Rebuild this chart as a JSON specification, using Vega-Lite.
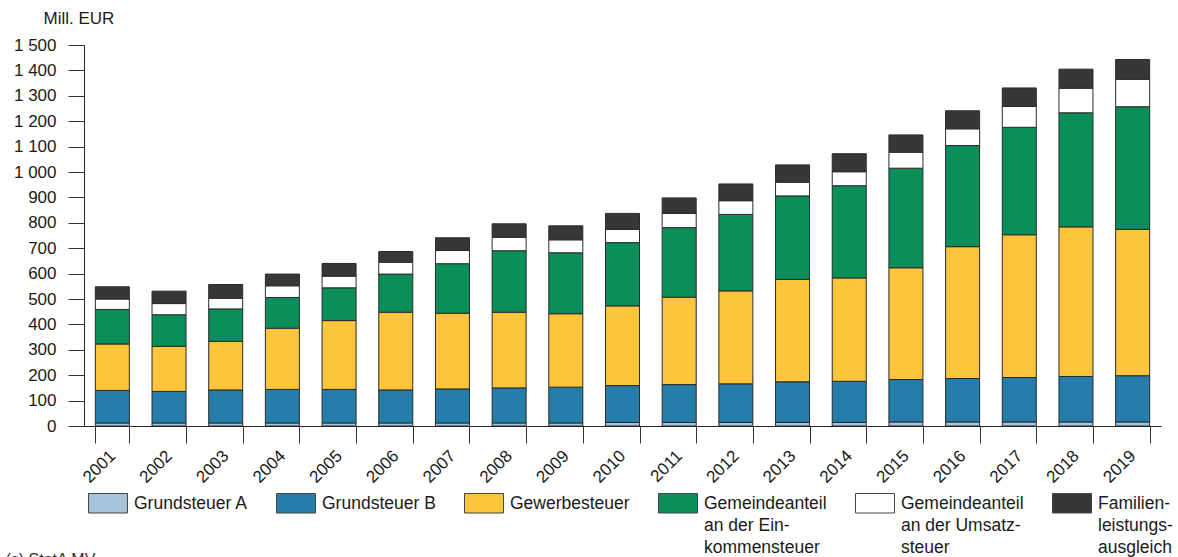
{
  "$schema": "https://vega.github.io/schema/vega-lite/v6.json",
  "autosize": {"type": "none"},
  "padding": {"left": 84, "top": 45, "right": 17, "bottom": 131},
  "width": 1077,
  "height": 381,
  "background": "white",
  "config": {"font": "Liberation Sans", "view": {"stroke": null}},
  "data": {
    "values": [
      {"Jahr": "2001", "Grundsteuer A": 12, "Grundsteuer B": 128, "Gewerbesteuer": 183, "Gemeindeanteil an der Einkommensteuer": 136, "Gemeindeanteil an der Umsatzsteuer": 41, "Familienleistungsausgleich": 48},
      {"Jahr": "2002", "Grundsteuer A": 12, "Grundsteuer B": 124, "Gewerbesteuer": 178, "Gemeindeanteil an der Einkommensteuer": 124, "Gemeindeanteil an der Umsatzsteuer": 44, "Familienleistungsausgleich": 49},
      {"Jahr": "2003", "Grundsteuer A": 12, "Grundsteuer B": 130, "Gewerbesteuer": 191, "Gemeindeanteil an der Einkommensteuer": 128, "Gemeindeanteil an der Umsatzsteuer": 42, "Familienleistungsausgleich": 54},
      {"Jahr": "2004", "Grundsteuer A": 12, "Grundsteuer B": 132, "Gewerbesteuer": 241, "Gemeindeanteil an der Einkommensteuer": 121, "Gemeindeanteil an der Umsatzsteuer": 46, "Familienleistungsausgleich": 46},
      {"Jahr": "2005", "Grundsteuer A": 12, "Grundsteuer B": 132, "Gewerbesteuer": 271, "Gemeindeanteil an der Einkommensteuer": 129, "Gemeindeanteil an der Umsatzsteuer": 46, "Familienleistungsausgleich": 50},
      {"Jahr": "2006", "Grundsteuer A": 12, "Grundsteuer B": 130, "Gewerbesteuer": 306, "Gemeindeanteil an der Einkommensteuer": 150, "Gemeindeanteil an der Umsatzsteuer": 47, "Familienleistungsausgleich": 42},
      {"Jahr": "2007", "Grundsteuer A": 12, "Grundsteuer B": 134, "Gewerbesteuer": 298, "Gemeindeanteil an der Einkommensteuer": 195, "Gemeindeanteil an der Umsatzsteuer": 52, "Familienleistungsausgleich": 50},
      {"Jahr": "2008", "Grundsteuer A": 12, "Grundsteuer B": 138, "Gewerbesteuer": 298, "Gemeindeanteil an der Einkommensteuer": 242, "Gemeindeanteil an der Umsatzsteuer": 53, "Familienleistungsausgleich": 53},
      {"Jahr": "2009", "Grundsteuer A": 12, "Grundsteuer B": 141, "Gewerbesteuer": 289, "Gemeindeanteil an der Einkommensteuer": 240, "Gemeindeanteil an der Umsatzsteuer": 51, "Familienleistungsausgleich": 55},
      {"Jahr": "2010", "Grundsteuer A": 14, "Grundsteuer B": 145, "Gewerbesteuer": 314, "Gemeindeanteil an der Einkommensteuer": 249, "Gemeindeanteil an der Umsatzsteuer": 52, "Familienleistungsausgleich": 63},
      {"Jahr": "2011", "Grundsteuer A": 14, "Grundsteuer B": 149, "Gewerbesteuer": 344, "Gemeindeanteil an der Einkommensteuer": 274, "Gemeindeanteil an der Umsatzsteuer": 56, "Familienleistungsausgleich": 61},
      {"Jahr": "2012", "Grundsteuer A": 14, "Grundsteuer B": 152, "Gewerbesteuer": 366, "Gemeindeanteil an der Einkommensteuer": 301, "Gemeindeanteil an der Umsatzsteuer": 54, "Familienleistungsausgleich": 66},
      {"Jahr": "2013", "Grundsteuer A": 14, "Grundsteuer B": 160, "Gewerbesteuer": 403, "Gemeindeanteil an der Einkommensteuer": 329, "Gemeindeanteil an der Umsatzsteuer": 54, "Familienleistungsausgleich": 68},
      {"Jahr": "2014", "Grundsteuer A": 14, "Grundsteuer B": 162, "Gewerbesteuer": 407, "Gemeindeanteil an der Einkommensteuer": 363, "Gemeindeanteil an der Umsatzsteuer": 55, "Familienleistungsausgleich": 71},
      {"Jahr": "2015", "Grundsteuer A": 16, "Grundsteuer B": 167, "Gewerbesteuer": 440, "Gemeindeanteil an der Einkommensteuer": 392, "Gemeindeanteil an der Umsatzsteuer": 63, "Familienleistungsausgleich": 68},
      {"Jahr": "2016", "Grundsteuer A": 16, "Grundsteuer B": 171, "Gewerbesteuer": 519, "Gemeindeanteil an der Einkommensteuer": 398, "Gemeindeanteil an der Umsatzsteuer": 66, "Familienleistungsausgleich": 71},
      {"Jahr": "2017", "Grundsteuer A": 16, "Grundsteuer B": 175, "Gewerbesteuer": 562, "Gemeindeanteil an der Einkommensteuer": 423, "Gemeindeanteil an der Umsatzsteuer": 82, "Familienleistungsausgleich": 73},
      {"Jahr": "2018", "Grundsteuer A": 16, "Grundsteuer B": 179, "Gewerbesteuer": 589, "Gemeindeanteil an der Einkommensteuer": 449, "Gemeindeanteil an der Umsatzsteuer": 97, "Familienleistungsausgleich": 75},
      {"Jahr": "2019", "Grundsteuer A": 16, "Grundsteuer B": 182, "Gewerbesteuer": 576, "Gemeindeanteil an der Einkommensteuer": 483, "Gemeindeanteil an der Umsatzsteuer": 108, "Familienleistungsausgleich": 78}
    ]
  },
  "transform": [
    {"fold": ["Grundsteuer A", "Grundsteuer B", "Gewerbesteuer", "Gemeindeanteil an der Einkommensteuer", "Gemeindeanteil an der Umsatzsteuer", "Familienleistungsausgleich"], "as": ["kat", "wert"]},
    {"window": [{"op": "row_number", "as": "reihenfolge"}], "groupby": ["Jahr"]}
  ],
  "mark": {"type": "bar", "stroke": "#2a2a2a", "strokeWidth": 1},
  "encoding": {
    "x": {
      "field": "Jahr", "type": "ordinal",
      "scale": {"paddingInner": 0.4, "paddingOuter": 0.2},
      "axis": {
        "tickBand": "extent", "tickSize": 17, "tickColor": "#333333", "domainColor": "#222222",
        "labelAngle": -45, "labelAlign": "right", "labelBaseline": "middle",
        "labelFontSize": 17, "labelColor": "#1a1a1a", "labelPadding": 10,
        "title": "(c) StatA MV", "titleX": -79, "titleY": 138, "titleAlign": "left", "titleAnchor": "start",
        "titleBaseline": "alphabetic", "titleFontSize": 16, "titleFontWeight": "normal", "titleColor": "#333333"
      }
    },
    "y": {
      "field": "wert", "type": "quantitative", "stack": "zero",
      "scale": {"domain": [0, 1500], "nice": false},
      "axis": {
        "values": [0, 100, 200, 300, 400, 500, 600, 700, 800, 900, 1000, 1100, 1200, 1300, 1400, 1500],
        "labelExpr": "replace(format(datum.value, ','), ',', ' ')",
        "grid": false, "tickSize": 16, "tickColor": "#333333", "domainColor": "#222222",
        "labelPadding": 12, "labelFontSize": 17, "labelColor": "#1a1a1a",
        "title": "Mill. EUR", "titleAngle": 0, "titleAlign": "left", "titleBaseline": "alphabetic",
        "titleX": -41, "titleY": -22, "titleFontSize": 17, "titleFontWeight": "normal", "titleColor": "#1a1a1a"
      }
    },
    "order": {"field": "reihenfolge", "type": "quantitative", "sort": "ascending"},
    "color": {
      "field": "kat", "type": "nominal",
      "sort": ["Grundsteuer A", "Grundsteuer B", "Gewerbesteuer", "Gemeindeanteil an der Einkommensteuer", "Gemeindeanteil an der Umsatzsteuer", "Familienleistungsausgleich"],
      "scale": {
        "domain": ["Grundsteuer A", "Grundsteuer B", "Gewerbesteuer", "Gemeindeanteil an der Einkommensteuer", "Gemeindeanteil an der Umsatzsteuer", "Familienleistungsausgleich"],
        "range": ["#a5c3db", "#247ea9", "#fcc53c", "#0a8f5a", "#ffffff", "#373737"]
      },
      "legend": {
        "orient": "none", "legendX": 4, "legendY": 438,
        "direction": "horizontal", "columns": 6, "title": null, "padding": 0,
        "symbolType": "M-1,-0.5H1V0.5H-1Z", "symbolSize": 1521,
        "symbolStrokeColor": "#444444", "symbolStrokeWidth": 1, "symbolOpacity": 1,
        "labelFontSize": 17.5, "labelColor": "#1a1a1a", "labelOffset": 6, "columnPadding": 26, "labelLimit": 300,
        "labelBaseline": "top",
        "labelExpr": "datum.label == 'Gemeindeanteil an der Einkommensteuer' ? ['Gemeindeanteil', 'an der Ein-', 'kommensteuer'] : datum.label == 'Gemeindeanteil an der Umsatzsteuer' ? ['Gemeindeanteil', 'an der Umsatz-', 'steuer'] : datum.label == 'Familienleistungsausgleich' ? ['Familien-', 'leistungs-', 'ausgleich'] : [datum.label, ' ', ' ']",
        "encode": {"labels": {"update": {"lineHeight": {"value": 22}, "dy": {"value": -8}}}}
      }
    }
  }
}
